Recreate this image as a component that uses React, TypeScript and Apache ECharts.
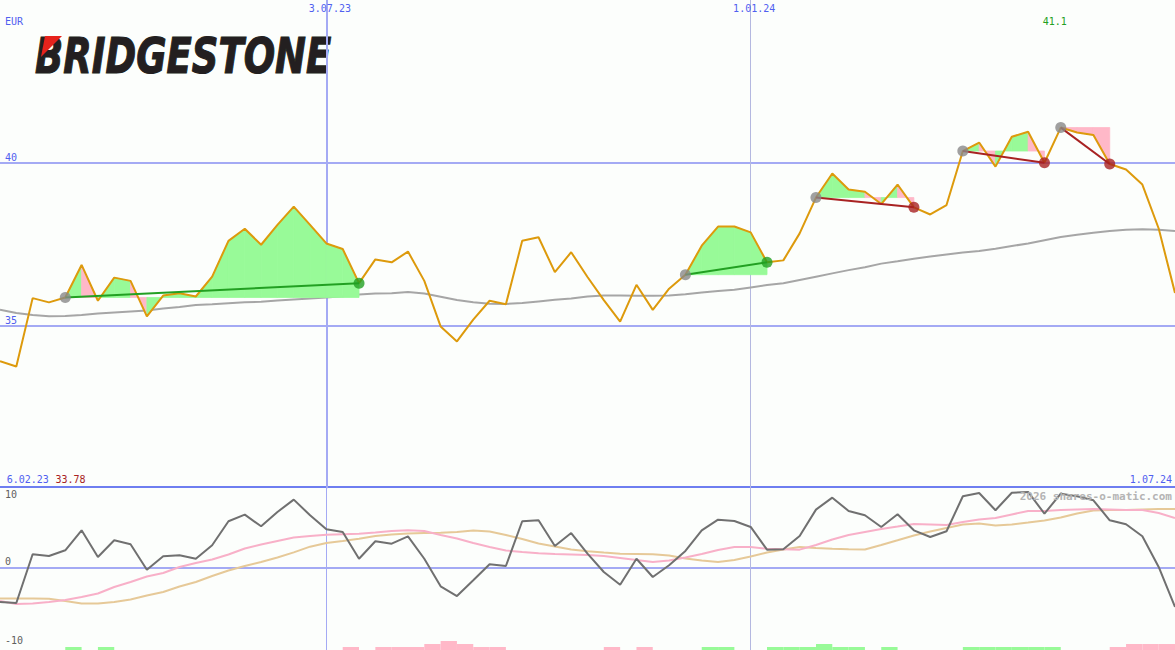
import React, { useEffect, useRef } from 'react';
import * as echarts from 'echarts';

// weekly categories (x axis)
const weeks = ['13.02.23','20.02.23','27.02.23','6.03.23','13.03.23','20.03.23','27.03.23','3.04.23','10.04.23','17.04.23','24.04.23','1.05.23','8.05.23','15.05.23','22.05.23','29.05.23','5.06.23','12.06.23','19.06.23','26.06.23','3.07.23','10.07.23','17.07.23','24.07.23','31.07.23','7.08.23','14.08.23','21.08.23','28.08.23','4.09.23','11.09.23','18.09.23','25.09.23','2.10.23','9.10.23','16.10.23','23.10.23','30.10.23','6.11.23','13.11.23','20.11.23','27.11.23','4.12.23','11.12.23','18.12.23','25.12.23','1.01.24','8.01.24','15.01.24','22.01.24','29.01.24','5.02.24','12.02.24','19.02.24','26.02.24','4.03.24','11.03.24','18.03.24','25.03.24','1.04.24','8.04.24','15.04.24','22.04.24','29.04.24','6.05.24','13.05.24','20.05.24','27.05.24','3.06.24','10.06.24','17.06.24','24.06.24','1.07.24'];

const price = [
  33.90, 33.74, 35.84, 35.71, 35.86, 36.86, 35.76, 36.47, 36.37, 35.28,
  35.92, 35.99, 35.89, 36.50, 37.60, 37.97, 37.48, 38.09, 38.65, 38.09,
  37.52, 37.35, 36.30, 37.03, 36.94, 37.27, 36.37, 34.97, 34.51, 35.18,
  35.76, 35.65, 37.60, 37.71, 36.64, 37.25, 36.49, 35.78, 35.12, 36.25,
  35.48, 36.13, 36.56, 37.45, 38.04, 38.04, 37.86, 36.94, 37.00, 37.83,
  38.93, 39.67, 39.18, 39.11, 38.73, 39.33, 38.63, 38.41, 38.70, 40.36,
  40.62, 39.88, 40.80, 40.95, 40.00, 41.08, 40.93, 40.85, 39.96, 39.79,
  39.33, 37.98, 36.00
];

const priceAvg = [
  35.48, 35.38, 35.32, 35.28, 35.29, 35.32, 35.37, 35.40, 35.43, 35.46,
  35.52, 35.57, 35.63, 35.65, 35.68, 35.71, 35.73, 35.77, 35.80, 35.83,
  35.86, 35.90, 35.95, 35.98, 35.99, 36.03, 35.98, 35.88, 35.78, 35.71,
  35.67, 35.66, 35.69, 35.74, 35.79, 35.83, 35.89, 35.92, 35.92, 35.91,
  35.91, 35.92, 35.96, 36.01, 36.06, 36.10, 36.17, 36.24, 36.30, 36.40,
  36.50, 36.60, 36.70, 36.79, 36.90, 36.97, 37.05, 37.12, 37.18, 37.24,
  37.29, 37.36, 37.44, 37.52, 37.62, 37.72, 37.79, 37.85, 37.90, 37.94,
  37.96, 37.94, 37.90
];

const osc = [
  -4.70, -4.84, 1.84, 1.60, 2.38, 5.12, 1.47, 3.75, 3.21, -0.27,
  1.56, 1.70, 1.23, 3.07, 6.36, 7.26, 5.67, 7.63, 9.32, 7.18,
  5.26, 4.89, 1.23, 3.62, 3.29, 4.30, 1.23, -2.55, -3.88, -1.73,
  0.47, 0.23, 6.36, 6.49, 2.97, 4.75, 1.92, -0.59, -2.33, 1.23,
  -1.27, 0.33, 2.29, 5.12, 6.58, 6.40, 5.58, 2.47, 2.52, 4.34,
  7.95, 9.59, 7.77, 7.18, 5.58, 7.32, 5.12, 4.21, 4.99, 9.78,
  10.23, 7.86, 10.27, 10.37, 7.40, 10.14, 9.78, 9.23, 6.49, 5.95,
  4.30, 0.10, -5.38
];

const oscFast = [
  -4.56, -4.97, -4.90, -4.70, -4.42, -4.01, -3.53, -2.64, -1.96, -1.21,
  -0.73, 0.10, 0.64, 1.12, 1.81, 2.63, 3.18, 3.66, 4.14, 4.34,
  4.51, 4.59, 4.66, 4.82, 5.03, 5.12, 5.03, 4.48, 4.00, 3.38,
  2.84, 2.36, 2.15, 1.97, 1.88, 1.81, 1.74, 1.60, 1.33, 1.05,
  0.78, 0.99, 1.40, 1.88, 2.42, 2.84, 2.84, 2.60, 2.52, 2.47,
  3.11, 3.86, 4.48, 4.89, 5.30, 5.64, 5.99, 5.92, 5.85, 6.26,
  6.60, 6.81, 7.29, 7.77, 7.77, 7.90, 7.97, 8.04, 7.97, 7.90,
  7.90, 7.49, 6.81
];

const oscSlow = [
  -4.22, -4.22, -4.22, -4.25, -4.56, -4.90, -4.90, -4.70, -4.36, -3.81,
  -3.33, -2.58, -1.96, -1.14, -0.38, 0.23, 0.78, 1.40, 2.10, 2.88,
  3.38, 3.66, 3.96, 4.34, 4.55, 4.68, 4.75, 4.78, 4.89, 5.10,
  4.96, 4.48, 3.93, 3.32, 2.90, 2.49, 2.25, 2.08, 1.92, 1.88,
  1.84, 1.67, 1.26, 0.99, 0.78, 1.05, 1.53, 2.08, 2.49, 2.84,
  2.70, 2.60, 2.52, 2.49, 3.11, 3.75, 4.41, 4.96, 5.44, 5.92,
  6.05, 5.78, 5.92, 6.19, 6.47, 6.88, 7.42, 7.84, 7.90, 7.90,
  7.97, 8.04, 8.04
];

const histogram = [
  0, 0, 0, 0, 1, 0, 1, 0, 0, 0,
  0, 0, 0, 0, 0, 0, 0, 0, 0, 0,
  0, -1, 0, -1, -1, -1, -2, -3, -2, -1,
  -1, 0, 0, 0, 0, 0, 0, -1, 0, -1,
  0, 0, 0, 1, 1, 0, 0, 1, 1, 1,
  2, 1, 1, 0, 1, 0, 0, 0, 0, 1,
  1, 1, 1, 1, 1, 0, 0, 0, -1, -2,
  -2, -2, 0
];

const signalStart = [4, 42, 50, 59, 65];
const signalEnd = [22, 47, 56, 64, 68];
const signalWin = [true, true, false, false, false];

const monthMarks = ['3.07.23', '1.01.24'];
const priceTicks = [35, 40];
const oscTicks = [-10, 0, 10];
const currency = 'EUR';
const startDate = '6.02.23';
const startPrice = 33.78;
const watermark = '2026 shares-o-matic.com';
const brand = 'BRIDGESTONE';

const MONO = "'DejaVu Sans Mono', monospace";
const BG = '#fcfefc';
const BLUE_TEXT = '#5060f0';
const GRID_BLUE = '#a4aaf4';
const SEP = '#6e7ef0';
const GREEN_FILL = '#98fa98';
const PINK_FILL = '#ffb8c8';
const ORANGE = '#dd9a0c';
const AVG_GRAY = '#a6a6a6';
const OSC_GRAY = '#707070';
const PINK_LINE = '#f8b0c8';
const TAN_LINE = '#e6c998';
const WIN = '#22a022';
const LOSS = '#a82222';
const markColors = [GRID_BLUE, '#b4b8e0'];
const markWidths = [2, 1];

export default function App() {
  const ref = useRef<HTMLDivElement>(null);

  useEffect(() => {
    const chart = echarts.init(ref.current!, undefined, { renderer: 'svg' });

    const fills: number[][] = [];
    const trend: number[][] = [];
    const dots: any[] = [];
    signalStart.forEach((cs, k) => {
      const ce = signalEnd[k];
      const base = price[cs];
      for (let c = cs; c < ce; c++) {
        fills.push([c, price[c], price[c + 1], base, price[c + 1] >= base ? 1 : 0]);
      }
      trend.push([cs, price[cs], ce, price[ce], signalWin[k] ? 1 : 0]);
      dots.push({ value: [cs, price[cs]], itemStyle: { color: '#888888' } });
      dots.push({ value: [ce, price[ce]], itemStyle: { color: signalWin[k] ? WIN : LOSS } });
    });
    const histData = histogram.map((v, c) => [c, v]).filter((d) => d[1] !== 0);

    const textBase = { fontSize: 10, fontFamily: MONO };

    const option: any = {
      animation: false,
      backgroundColor: BG,
      textStyle: { fontFamily: MONO },
      grid: [
        { left: 0, right: 0, top: -1.4, height: 489.6 },
        { left: 0, right: 0, top: 487, height: 163 },
        { left: 0, right: 0, top: 641, height: 9 },
      ],
      xAxis: [
        {
          type: 'category', gridIndex: 0, data: weeks, boundaryGap: false, position: 'top',
          axisLine: { show: false, onZero: false }, axisTick: { show: false }, splitLine: { show: false },
          axisLabel: { show: false },
        },
        {
          type: 'category', gridIndex: 1, data: weeks, boundaryGap: false, position: 'top',
          axisLine: { show: true, onZero: false, lineStyle: { color: SEP, width: 2 } },
          axisTick: { show: false }, axisLabel: { show: false }, splitLine: { show: false },
        },
        { type: 'category', gridIndex: 2, data: weeks, boundaryGap: false, show: false },
      ],
      yAxis: [
        {
          type: 'value', gridIndex: 0, min: 30, max: 45, interval: 5,
          axisLine: { show: false }, axisTick: { show: false },
          axisLabel: {
            inside: true, margin: 5, verticalAlign: 'bottom', color: BLUE_TEXT, ...textBase,
            formatter: (v: number) => (priceTicks.includes(v) ? String(v) : ''),
          },
          splitLine: { show: true, showMinLine: false, showMaxLine: false, lineStyle: { color: GRID_BLUE, width: 2 } },
        },
        {
          type: 'value', gridIndex: 1, min: -11.27, max: 11.05,
          axisLine: { show: false }, axisTick: { show: false, customValues: oscTicks }, splitLine: { show: false },
          axisLabel: {
            inside: true, margin: 5, verticalAlign: 'middle', color: '#606060', ...textBase,
            customValues: oscTicks,
            formatter: (v: number) => (v === 0 ? '{z|0}' : String(v)),
            rich: { z: { padding: [0, 0, 12, 0], color: '#606060', ...textBase } },
          },
        },
        { type: 'value', gridIndex: 2, min: 0, max: 3, show: false },
      ],
      series: [
        {
          name: 'avg', type: 'line', xAxisIndex: 0, yAxisIndex: 0, data: priceAvg,
          symbol: 'none', lineStyle: { color: AVG_GRAY, width: 2 }, z: 1, silent: true,
          markLine: {
            z: 1, silent: true, symbol: ['none', 'none'], label: { show: false },
            data: monthMarks.map((m, i) => ({ xAxis: m, lineStyle: { color: markColors[i], width: markWidths[i], type: 'solid' } })),
          },
        },
        {
          type: 'custom', xAxisIndex: 0, yAxisIndex: 0, data: fills, z: 2, silent: true, clip: true,
          renderItem: (params: any, api: any) => {
            const c = api.value(0);
            const base = api.value(3);
            const pts = [
              api.coord([c, base]),
              api.coord([c, api.value(1)]),
              api.coord([c + 1, api.value(2)]),
              api.coord([c + 1, base]),
            ];
            const col = api.value(4) ? GREEN_FILL : PINK_FILL;
            return { type: 'polygon', shape: { points: pts }, style: { fill: col, stroke: col, lineWidth: 0.8 } };
          },
        },
        {
          name: 'price', type: 'line', xAxisIndex: 0, yAxisIndex: 0, data: price,
          symbol: 'none', lineStyle: { color: ORANGE, width: 2 }, z: 3, silent: true,
        },
        {
          type: 'custom', xAxisIndex: 0, yAxisIndex: 0, data: trend, z: 5, silent: true,
          renderItem: (params: any, api: any) => {
            const a = api.coord([api.value(0), api.value(1)]);
            const b = api.coord([api.value(2), api.value(3)]);
            return {
              type: 'line', shape: { x1: a[0], y1: a[1], x2: b[0], y2: b[1] },
              style: { stroke: api.value(4) ? WIN : LOSS, lineWidth: 2 },
            };
          },
        },
        {
          type: 'scatter', xAxisIndex: 0, yAxisIndex: 0, data: dots, symbolSize: 11, z: 6, silent: true,
        },
        {
          name: 'slow', type: 'line', xAxisIndex: 1, yAxisIndex: 1, data: oscSlow,
          symbol: 'none', lineStyle: { color: TAN_LINE, width: 2 }, z: 2, silent: true,
          markLine: {
            z: 1, silent: true, symbol: ['none', 'none'], label: { show: false },
            data: [
              { yAxis: 0, lineStyle: { color: GRID_BLUE, width: 2, type: 'solid' } },
              ...monthMarks.map((m, i) => ({ xAxis: m, lineStyle: { color: markColors[i], width: 1, type: 'solid' } })),
            ],
          },
        },
        {
          name: 'fast', type: 'line', xAxisIndex: 1, yAxisIndex: 1, data: oscFast,
          symbol: 'none', lineStyle: { color: PINK_LINE, width: 2 }, z: 3, silent: true,
        },
        {
          name: 'osc', type: 'line', xAxisIndex: 1, yAxisIndex: 1, data: osc,
          symbol: 'none', lineStyle: { color: OSC_GRAY, width: 2 }, z: 4, silent: true,
        },
        {
          type: 'custom', xAxisIndex: 2, yAxisIndex: 2, data: histData, z: 2, silent: true,
          renderItem: (params: any, api: any) => {
            const c = api.value(0);
            const v = api.value(1);
            const a = api.coord([c, Math.abs(v)]);
            const b = api.coord([c + 1, 0]);
            return {
              type: 'rect', shape: { x: a[0], y: a[1], width: b[0] - a[0], height: b[1] - a[1] },
              style: { fill: v > 0 ? GREEN_FILL : PINK_FILL },
            };
          },
        },
      ],
      graphic: [
        { id: 'cur', type: 'text', x: 5, y: 21.5, z: 10, style: { text: currency, fill: BLUE_TEXT, ...textBase, align: 'left', verticalAlign: 'middle' } },
        { id: 'sd', type: 'text', x: 6.7, y: 479.5, z: 10, style: { text: startDate, fill: BLUE_TEXT, ...textBase, align: 'left', verticalAlign: 'middle' } },
        { id: 'sp', type: 'text', x: 55.5, y: 479.5, z: 10, style: { text: startPrice.toFixed(2), fill: LOSS, ...textBase, align: 'left', verticalAlign: 'middle' } },
        { id: 'ed', type: 'text', x: 1172, y: 479.5, z: 10, style: { text: weeks[weeks.length - 1], fill: BLUE_TEXT, ...textBase, align: 'right', verticalAlign: 'middle' } },
        { id: 'wm', type: 'text', x: 1172, y: 496, z: 10, style: { text: watermark, fill: '#b4b4b4', fontSize: 11, fontWeight: 'bold', fontFamily: MONO, align: 'right', verticalAlign: 'middle' } },
        {
          id: 'logo', type: 'group', z: 10,
          children: [
            {
              type: 'text', x: 35, y: 55, scaleX: 0.74,
              style: {
                text: brand, fill: '#231f20', stroke: '#231f20', lineWidth: 1.2,
                fontSize: 50, fontWeight: 'bold', fontStyle: 'italic',
                fontFamily: "'DejaVu Sans', sans-serif", align: 'left', verticalAlign: 'middle',
              },
            },
            { type: 'polygon', shape: { points: [[45, 36], [62, 36], [41, 57]] }, style: { fill: '#e6231c' } },
          ],
        },
      ],
    };

    chart.setOption(option);

    const extra: any[] = [];
    monthMarks.forEach((m, i) => {
      const x = chart.convertToPixel({ xAxisIndex: 0 }, m) as number;
      extra.push({ id: 'mm' + i, type: 'text', x: x + 3.5, y: 8.8, z: 10, style: { text: m, fill: BLUE_TEXT, ...textBase, align: 'center', verticalAlign: 'middle' } });
    });
    const maxVal = Math.max(...price);
    const maxIdx = price.indexOf(maxVal);
    const mx = chart.convertToPixel({ xAxisIndex: 0 }, maxIdx) as number;
    extra.push({ id: 'maxLabel', type: 'text', x: mx - 6, y: 21.5, z: 10, style: { text: maxVal.toFixed(1), fill: WIN, ...textBase, align: 'center', verticalAlign: 'middle' } });
    chart.setOption({ graphic: extra });

    return () => chart.dispose();
  }, []);

  return <div ref={ref} style={{ position: 'fixed', left: 0, top: 0, width: 1175, height: 650 }} />;
}
